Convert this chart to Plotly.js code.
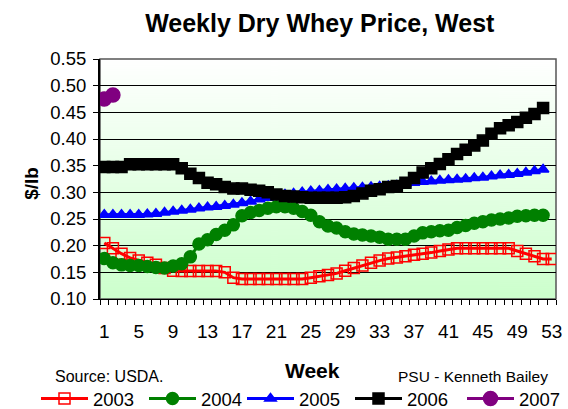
<!DOCTYPE html>
<html>
<head>
<meta charset="utf-8">
<script src="https://cdn.plot.ly/plotly-3.0.1.min.js"></script>
<style>html,body{margin:0;padding:0;background:#fff;}#chart{width:568px;height:409px;}</style>
</head>
<body>
<div id="chart"></div>
<script>
// ---- data ----
const weeks53 = Array.from({length: 53}, (_, i) => i + 1);
const tickWeeks = [1, 5, 9, 13, 17, 21, 25, 29, 33, 37, 41, 45, 49, 53];
const seriesNames = ["2003", "2004", "2005", "2006", "2007"];

const y2003 = [0.205,0.195,0.185,0.177,0.172,0.168,0.164,0.158,0.153,0.1525,
  0.1525,0.1525,0.1525,0.1525,0.15,0.14,0.1375,0.1375,0.1375,0.1375,
  0.1375,0.1375,0.1375,0.1375,0.14,0.1425,0.145,0.148,0.153,0.158,
  0.163,0.168,0.172,0.176,0.178,0.18,0.183,0.185,0.187,0.19,
  0.193,0.195,0.195,0.195,0.195,0.195,0.195,0.195,0.19,0.185,
  0.18,0.175,0.175];
const y2004 = [0.176,0.168,0.164,0.163,0.163,0.161,0.159,0.158,0.162,0.166,
  0.179,0.203,0.211,0.221,0.229,0.239,0.256,0.262,0.266,0.27,
  0.273,0.273,0.27,0.264,0.257,0.245,0.237,0.233,0.226,0.222,
  0.22,0.218,0.216,0.212,0.212,0.212,0.218,0.224,0.226,0.228,
  0.229,0.234,0.238,0.242,0.245,0.248,0.25,0.252,0.255,0.256,
  0.257,0.257];
const y2005 = [0.258,0.258,0.258,0.258,0.258,0.259,0.26,0.262,0.264,0.266,
  0.268,0.27,0.272,0.273,0.275,0.277,0.28,0.283,0.287,0.29,
  0.293,0.296,0.298,0.3,0.302,0.303,0.305,0.306,0.307,0.308,
  0.309,0.31,0.311,0.312,0.313,0.315,0.318,0.32,0.321,0.322,
  0.323,0.324,0.325,0.327,0.328,0.33,0.332,0.333,0.335,0.337,
  0.34,0.343];
const y2006 = [0.3475,0.3475,0.3475,0.3525,0.3525,0.3525,0.3525,0.3525,0.3525,0.345,
  0.335,0.327,0.318,0.315,0.31,0.307,0.307,0.305,0.303,0.3,
  0.296,0.293,0.292,0.291,0.29,0.29,0.29,0.29,0.291,0.293,
  0.298,0.303,0.306,0.31,0.312,0.318,0.327,0.337,0.345,0.353,
  0.362,0.372,0.38,0.388,0.397,0.41,0.42,0.426,0.432,0.44,
  0.447,0.458];
const y2007 = [0.475, 0.4825];

// ---- gradient background image ----
function gradientURL() {
  const c = document.createElement('canvas');
  c.width = 4; c.height = 240;
  const ctx = c.getContext('2d');
  const g = ctx.createLinearGradient(0, 0, 0, 240);
  g.addColorStop(0, '#ffffff');
  g.addColorStop(1, '#ccffcc');
  ctx.fillStyle = g;
  ctx.fillRect(0, 0, 4, 240);
  return c.toDataURL('image/png');
}

const font = "Liberation Sans, Arial, sans-serif";

function tr(name, ys, color, symbol, size, lw, legendId) {
  return {
    type: 'scatter', mode: 'lines+markers', name: name, legend: legendId,
    x: weeks53.slice(0, ys.length), y: ys,
    line: {color: color, width: lw},
    marker: {symbol: symbol, size: size, color: color, line: {color: color, width: 1.5}}
  };
}

const data = [
  tr(seriesNames[0], y2003, '#ff0000', 'square-open', 11, 3, 'legend'),
  tr(seriesNames[1], y2004, '#008000', 'circle', 12, 3, 'legend'),
  tr(seriesNames[2], y2005, '#0000ff', 'triangle-up', 10, 3, 'legend2'),
  tr(seriesNames[3], y2006, '#000000', 'square', 11, 3, 'legend2'),
  tr(seriesNames[4], y2007, '#800080', 'circle', 14, 3, 'legend3')
];

function legendStyle(x0) {
  return {
    orientation: 'h', xref: 'container', yref: 'container',
    x: x0 / 568, xanchor: 'left', y: 10 / 409, yanchor: 'middle',
    font: {family: font, size: 18.5, color: '#000'},
    entrywidth: 46, entrywidthmode: 'pixels', itemwidth: 47,
    bgcolor: 'rgba(0,0,0,0)', traceorder: 'normal'
  };
}

const layout = {
  width: 568, height: 409,
  margin: {l: 100, r: 12, t: 59, b: 110, pad: 0},
  paper_bgcolor: '#ffffff',
  plot_bgcolor: 'rgba(0,0,0,0)',
  font: {family: font, size: 16, color: '#000'},
  title: {text: '<b>Weekly Dry Whey Price, West</b>', font: {family: font, size: 25, color: '#000'},
          x: 0.563, xanchor: 'center', y: 0.944, yanchor: 'middle'},
  showlegend: true,
  legend: legendStyle(36),
  legend2: legendStyle(242),
  legend3: legendStyle(462),
  xaxis: {
    range: [0.5, 53.5], tickmode: 'array', tickvals: tickWeeks,
    ticktext: tickWeeks.map(String), ticks: '', showgrid: false,
    zeroline: false, showline: true, linecolor: '#000', linewidth: 1,
    tickfont: {family: font, size: 19, color: '#000'},
    ticklabelstandoff: 15, automargin: false,
    minor: {tickmode: 'linear', tick0: 0.5, dtick: 1, ticks: 'outside', ticklen: 5, tickcolor: '#000', tickwidth: 1, showgrid: false},
    fixedrange: true
  },
  yaxis: {
    range: [0.10, 0.55], tickmode: 'linear', tick0: 0.10, dtick: 0.05,
    tickformat: '.2f', ticks: 'outside', ticklen: 5, tickcolor: '#000',
    showgrid: true, gridcolor: '#000', gridwidth: 1, automargin: false,
    zeroline: false, showline: true, linecolor: '#000', linewidth: 2,
    tickfont: {family: font, size: 18.5, color: '#000'},
    ticklabelstandoff: 3,
    fixedrange: true
  },
  shapes: [
    {type: 'rect', xref: 'paper', yref: 'paper', x0: 0, x1: 1, y0: 0, y1: 1,
     line: {color: '#555', width: 1.5}, fillcolor: 'rgba(0,0,0,0)', layer: 'below'}
  ],
  images: [
    {source: gradientURL(), xref: 'paper', yref: 'paper', x: 0, y: 1,
     sizex: 1, sizey: 1, sizing: 'stretch', xanchor: 'left', yanchor: 'top', layer: 'below'}
  ],
  annotations: [
    {text: '<b>$/lb</b>', xref: 'paper', yref: 'paper', x: (32 - 100) / 456, y: 0.48,
     xanchor: 'center', yanchor: 'middle', textangle: -90, showarrow: false,
     font: {family: font, size: 19, color: '#000'}},
    {text: '<b>Week</b>', xref: 'paper', yref: 'paper', x: (312 - 100) / 456, y: (299 - 370) / 240,
     xanchor: 'center', yanchor: 'middle', showarrow: false,
     font: {family: font, size: 21, color: '#000'}},
    {text: 'Source: USDA.', xref: 'paper', yref: 'paper', x: (53 - 100) / 456, y: (299 - 376) / 240,
     xanchor: 'left', yanchor: 'middle', showarrow: false,
     font: {family: font, size: 16, color: '#000'}},
    {text: 'PSU - Kenneth Bailey', xref: 'paper', yref: 'paper', x: (550 - 100) / 456, y: (299 - 376) / 240,
     xanchor: 'right', yanchor: 'middle', showarrow: false,
     font: {family: font, size: 15.5, color: '#000'}}
  ]
};

Plotly.newPlot('chart', data, layout, {staticPlot: true, displayModeBar: false});
</script>
</body>
</html>
